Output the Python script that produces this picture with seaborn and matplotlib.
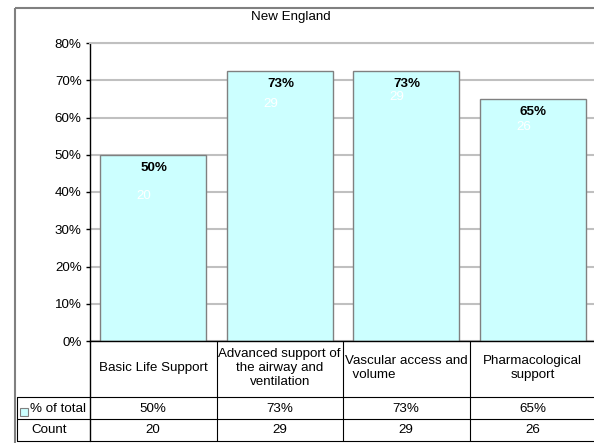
import matplotlib
matplotlib.use("Agg")
import matplotlib.pyplot as plt
from matplotlib.patches import Rectangle
from decimal import Decimal, ROUND_HALF_UP
import pandas as pd
import seaborn as sns

# ---- data -------------------------------------------------------------
title = "New England"
categories = [
    "Basic Life Support",
    "Advanced support of the airway and ventilation",
    "Vascular access and volume",
    "Pharmacological support",
]
category_labels = [
    "Basic Life Support",
    "Advanced support of\nthe airway and\nventilation",
    "Vascular access and\n  volume",
    "Pharmacological\nsupport",
]
pct_of_total = [0.50, 0.725, 0.725, 0.65]
counts = [20, 29, 29, 26]
y_ticks = [0.0, 0.1, 0.2, 0.3, 0.4, 0.5, 0.6, 0.7, 0.8]
row_names = ["% of total", "Count"]

# ---- style ------------------------------------------------------------
BAR_FILL = "#CCFFFF"
BAR_EDGE = "#808080"
GRID = "#C0C0C0"
FS = 9.6
# how far (points) the white count labels sit below each bar top
count_drop = [30, 23.8, 18.7, 20.2]

sns.set_theme(style="white")
plt.rcParams["font.family"] = ["Liberation Sans", "DejaVu Sans"]


def pct_text(p):
    v = (Decimal(str(p)) * 100).quantize(Decimal("1"), rounding=ROUND_HALF_UP)
    return f"{v}%"


W, H = 594, 443
fig = plt.figure(figsize=(W / 100, H / 100), dpi=100)
fig.patch.set_facecolor("white")

# plot area in pixel bounds
PL, PR, PT, PB = 90, 596, 43, 341
ax = fig.add_axes([PL / W, 1 - PB / H, (PR - PL) / W, (PB - PT) / H])

df = pd.DataFrame({"category": categories, "pct": pct_of_total, "count": counts})
sns.barplot(data=df, x="category", y="pct", color=BAR_FILL, saturation=1,
            edgecolor=BAR_EDGE, linewidth=1.0, width=0.84, ax=ax, zorder=2)

ax.set_xlim(-0.5, len(categories) - 0.5)
ax.set_ylim(0, 0.8)
ax.set_yticks(y_ticks)
ax.set_yticklabels([pct_text(t) for t in y_ticks])
ax.set_xticks([])
ax.set_xlabel("")
ax.set_ylabel("")
ax.yaxis.grid(True, color=GRID, linewidth=1.5)
ax.set_axisbelow(True)
ax.tick_params(axis="y", direction="out", length=3, width=1, color="black",
               labelsize=FS, pad=3, left=True, labelcolor="black")
ax.spines["right"].set_visible(False)
ax.spines["top"].set_color(GRID)
ax.spines["top"].set_linewidth(1.5)
ax.spines["left"].set_color("black")
ax.spines["left"].set_linewidth(1.0)
ax.spines["bottom"].set_color("black")
ax.spines["bottom"].set_linewidth(1.0)
ax.set_facecolor("white")

# value labels on the bars
for i, bar in enumerate(ax.patches):
    cx = bar.get_x() + bar.get_width() / 2
    top = bar.get_height()
    ax.annotate(pct_text(pct_of_total[i]), xy=(cx, top), xytext=(0.5, -9.3),
                textcoords="offset points", ha="center", va="center",
                fontsize=FS, fontweight="bold", color="black", zorder=5)
    ax.annotate(str(counts[i]), xy=(cx, top), xytext=(-6.5, -count_drop[i]),
                textcoords="offset points", ha="center", va="center",
                fontsize=FS, color="white", zorder=5)

# ---- overlay in pixel coordinates for frame, title and data table -----
fig.canvas.draw()
ov = fig.add_axes([0, 0, 1, 1], zorder=10)
ov.set_xlim(0, W)
ov.set_ylim(H, 0)
ov.axis("off")
ov.patch.set_alpha(0)


def col_x(v):
    return ax.transData.transform((v, 0))[0]


n = len(categories)
bounds = [col_x(i - 0.5) for i in range(n + 1)]
centers = [col_x(i) for i in range(n)]

# chart frame
ov.add_patch(Rectangle((14.5, 7.5), 584, 440, fill=False, edgecolor="#808080",
                       linewidth=1.5, clip_on=False))
ov.text(291, 17, title, ha="center", va="center", fontsize=FS, color="black")

LW = 0.8
ROW_TOP, ROW1, ROW2, ROW_BOT = PB, 397, 419, 441
TL = 16.5
# horizontal rules
for y in (ROW1, ROW2, ROW_BOT):
    ov.plot([TL, bounds[-1]], [y, y], color="black", lw=LW, clip_on=False)
# vertical rules
ov.plot([TL, TL], [ROW1, ROW_BOT], color="black", lw=LW, clip_on=False)
ov.plot([bounds[0], bounds[0]], [ROW_TOP, ROW_BOT], color="black", lw=1.0, clip_on=False)
for b in bounds[1:]:
    ov.plot([b, b], [ROW_TOP, ROW_BOT], color="black", lw=LW, clip_on=False)

# category header cells
for cx, lab in zip(centers, category_labels):
    ov.text(cx, 368, lab, ha="center", va="center",
            multialignment="left" if "  " in lab else "center",
            fontsize=FS, linespacing=1.27, color="black")

# row headers with legend key
ov.add_patch(Rectangle((19.5, 407.5), 8, 8, facecolor=BAR_FILL,
                       edgecolor=BAR_EDGE, linewidth=0.8))
ov.text(30.5, 408.5, row_names[0], ha="left", va="center", fontsize=FS, color="black")
ov.text(31, 430, row_names[1], ha="left", va="center", fontsize=FS, color="black")

# row values
for cx, p, c in zip(centers, pct_of_total, counts):
    ov.text(cx, 408.5, pct_text(p), ha="center", va="center", fontsize=FS, color="black")
    ov.text(cx, 430, str(c), ha="center", va="center", fontsize=FS, color="black")

fig.savefig("out.png", dpi=100, facecolor="white")
